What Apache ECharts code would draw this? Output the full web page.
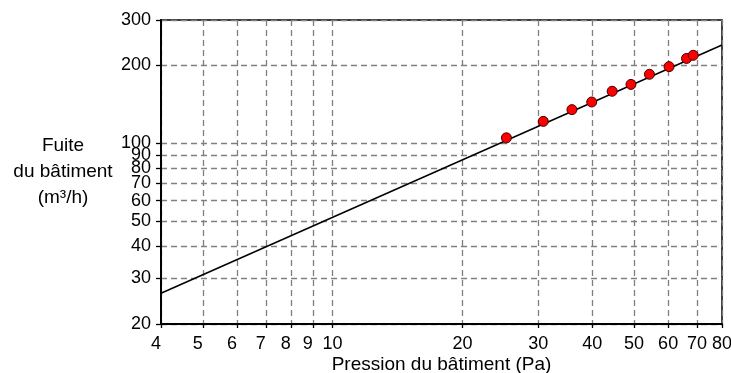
<!DOCTYPE html>
<html><head><meta charset="utf-8">
<script src="https://cdn.jsdelivr.net/npm/echarts@6/dist/echarts.min.js"></script>
<style>html,body{margin:0;padding:0;background:#fff}#c{width:731px;height:373px}</style>
</head><body><div id="c"></div>
<script>
const xTicks = [4,5,6,7,8,9,10,20,30,40,50,60,70,80];
const yTicks = [20,30,40,50,60,70,80,90,100,200,300];
const pressure = [25.3,30.8,35.9,39.9,44.5,49.2,54.3,60.3,66.2,68.6];
const leakage  = [105,121.6,135,144.5,159,169,185,198,213,219];
const fitPressure = [4,80];
const fitLeakage  = [26.3,240];

const FONT = "'Liberation Sans', Arial, sans-serif";
const chart = echarts.init(document.getElementById('c'), null, {renderer:'canvas'});
chart.setOption({
  animation:false,
  backgroundColor:'#fff',
  grid:{left:161, right:9, top:20, bottom:49, outerBoundsMode:'none', containLabel:false,
        show:true, borderColor:'#000', borderWidth:1.5, backgroundColor:'transparent'},
  xAxis:{
    type:'log', logBase:10, min:4, max:80,
    name:'Pression du bâtiment (Pa)', nameLocation:'middle', nameGap:31, nameMoveOverlap:false,
    nameTextStyle:{fontFamily:FONT, fontSize:19, color:'#000'},
    axisLine:{lineStyle:{color:'#000', width:2}},
    axisTick:{show:true, length:4, inside:false, lineStyle:{color:'#000', width:1.3}, customValues:xTicks},
    axisLabel:{fontFamily:FONT, fontSize:18, color:'#000', margin:11, customValues:xTicks, showMinLabel:true, showMaxLabel:true,
      formatter:v => (v < 10 ? '{s|' + v + '}' : String(v)),
      rich:{s:{fontFamily:FONT, fontSize:18, color:'#000', padding:[0,10,0,0]}}},
    splitLine:{show:true, lineStyle:{type:[6,4], color:'#7f7f7f', width:1.3}},
    minorTick:{show:false}, minorSplitLine:{show:false}
  },
  yAxis:{
    type:'log', logBase:10, min:20, max:300,
    name:'Fuite\ndu bâtiment\n(m³/h)', nameLocation:'middle', nameGap:98, nameRotate:0, nameMoveOverlap:false,
    nameTextStyle:{fontFamily:FONT, fontSize:19, color:'#000', lineHeight:26, align:'center', verticalAlign:'middle', padding:[0,0,6,0]},
    axisLine:{lineStyle:{color:'#000', width:2}},
    axisTick:{show:true, length:5, inside:false, lineStyle:{color:'#000', width:1.3}, customValues:yTicks},
    axisLabel:{fontFamily:FONT, fontSize:18, color:'#000', margin:10, customValues:yTicks, showMinLabel:true, showMaxLabel:true},
    splitLine:{show:true, lineStyle:{type:[6,4], color:'#7f7f7f', width:1.3}},
    minorTick:{show:false}, minorSplitLine:{show:false}
  },
  series:[
    {type:'line', data:fitPressure.map((p,i)=>[p,fitLeakage[i]]), showSymbol:false, symbol:'none',
     lineStyle:{color:'#000', width:1.5}, z:3},
    {type:'scatter', data:pressure.map((p,i)=>[p,leakage[i]]), symbol:'circle', symbolSize:10,
     itemStyle:{color:'#ff0000', borderColor:'#400000', borderWidth:1, opacity:1}, z:4}
  ]
});
</script></body></html>
